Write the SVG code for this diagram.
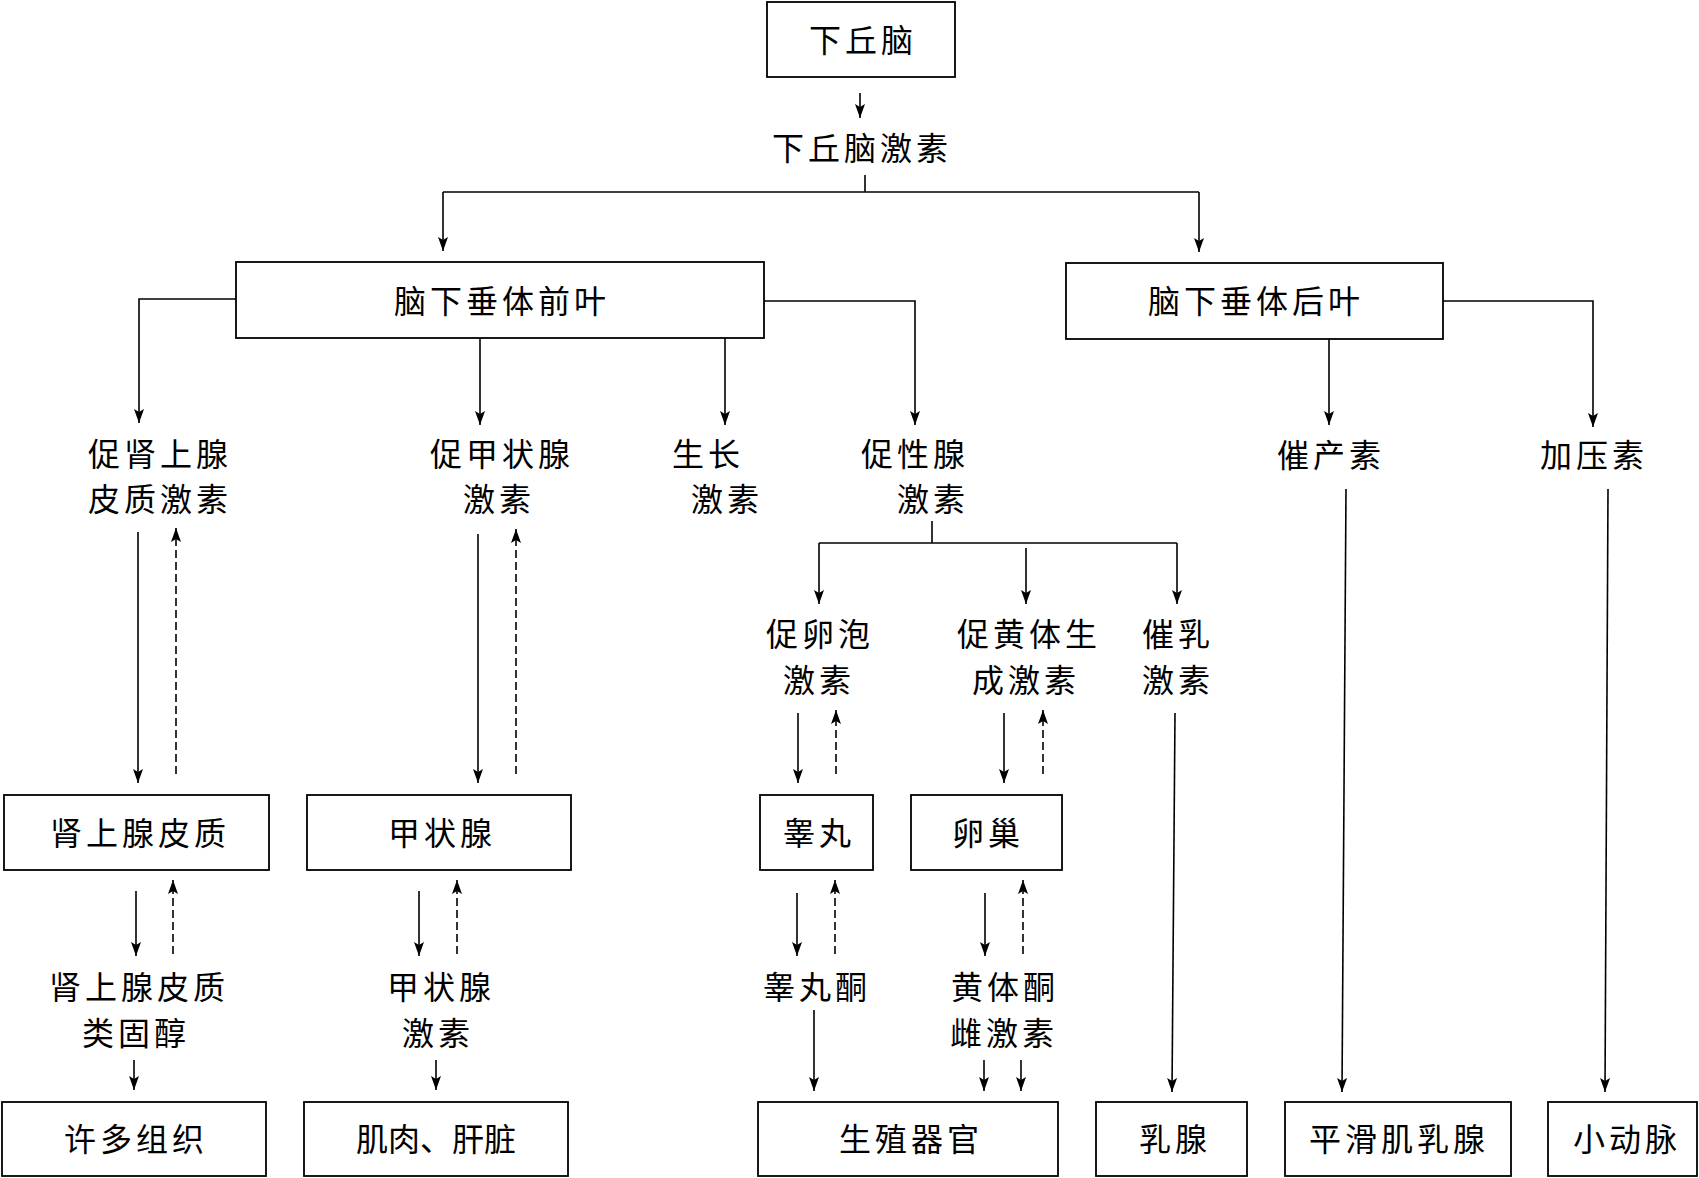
<svg xmlns="http://www.w3.org/2000/svg" width="1699" height="1178" viewBox="0 0 1699 1178">
<style>
.box{fill:#fff;stroke:#000;stroke-width:1.8}
.t{font-family:"Noto Sans CJK SC","Noto Sans CJK JP",sans-serif;font-size:32px;letter-spacing:4px;text-anchor:middle;fill:#000}
.c{fill:none;stroke:#000;stroke-width:1.6}
.d{fill:none;stroke:#000;stroke-width:1.6;stroke-dasharray:8 4}
</style>
<defs>
<marker id="ah" viewBox="0 0 14 10" refX="14" refY="5" markerWidth="14" markerHeight="10" markerUnits="userSpaceOnUse" orient="auto">
<path d="M0,0 L14,5 L0,10 L3,5 z" fill="#000"/>
</marker>
</defs>
<rect width="1699" height="1178" fill="#fff"/>

<g id="n-hypothalamus"><rect class="box" x="767" y="2" width="188" height="75"/><text class="t" x="863" y="52">下丘脑</text></g>
<g id="n-hypo-hormone"><text class="t" x="862" y="160">下丘脑激素</text></g>
<g id="n-anterior"><rect class="box" x="236" y="262" width="528" height="76"/><text class="t" x="502" y="313">脑下垂体前叶</text></g>
<g id="n-posterior"><rect class="box" x="1066" y="263" width="377" height="76"/><text class="t" x="1256" y="313">脑下垂体后叶</text></g>
<g id="n-acth"><text class="t" x="160" y="466">促肾上腺</text><text class="t" x="160" y="511">皮质激素</text></g>
<g id="n-tsh"><text class="t" x="502" y="466">促甲状腺</text><text class="t" x="499" y="511">激素</text></g>
<g id="n-gh"><text class="t" x="708" y="466">生长</text><text class="t" x="727" y="511">激素</text></g>
<g id="n-gth"><text class="t" x="915" y="466">促性腺</text><text class="t" x="933" y="511">激素</text></g>
<g id="n-oxytocin"><text class="t" x="1331" y="467">催产素</text></g>
<g id="n-vasopressin"><text class="t" x="1594" y="467">加压素</text></g>
<g id="n-fsh"><text class="t" x="820" y="646">促卵泡</text><text class="t" x="819" y="692">激素</text></g>
<g id="n-lh"><text class="t" x="1029" y="646">促黄体生</text><text class="t" x="1026" y="692">成激素</text></g>
<g id="n-prl"><text class="t" x="1178" y="646">催乳</text><text class="t" x="1178" y="692">激素</text></g>
<g id="n-adrenal"><rect class="box" x="4" y="795" width="265" height="75"/><text class="t" x="140" y="845">肾上腺皮质</text></g>
<g id="n-thyroid"><rect class="box" x="307" y="795" width="264" height="75"/><text class="t" x="442" y="845">甲状腺</text></g>
<g id="n-testis"><rect class="box" x="760" y="795" width="113" height="75"/><text class="t" x="819" y="845">睾丸</text></g>
<g id="n-ovary"><rect class="box" x="911" y="795" width="151" height="75"/><text class="t" x="988" y="845">卵巢</text></g>
<g id="n-corticoid"><text class="t" x="139" y="999">肾上腺皮质</text><text class="t" x="136" y="1045">类固醇</text></g>
<g id="n-thyroxine"><text class="t" x="441" y="999">甲状腺</text><text class="t" x="438" y="1045">激素</text></g>
<g id="n-testosterone"><text class="t" x="817" y="999">睾丸酮</text></g>
<g id="n-progesterone"><text class="t" x="1005" y="999">黄体酮</text><text class="t" x="1004" y="1045">雌激素</text></g>
<g id="n-tissues"><rect class="box" x="2" y="1102" width="264" height="74"/><text class="t" x="136" y="1151">许多组织</text></g>
<g id="n-muscle"><rect class="box" x="304" y="1102" width="264" height="74"/><text class="t" x="436" y="1151" style="letter-spacing:0">肌肉、肝脏</text></g>
<g id="n-genital"><rect class="box" x="758" y="1102" width="300" height="74"/><text class="t" x="911" y="1151">生殖器官</text></g>
<g id="n-mammary"><rect class="box" x="1096" y="1102" width="151" height="74"/><text class="t" x="1175" y="1151">乳腺</text></g>
<g id="n-smooth"><rect class="box" x="1285" y="1102" width="226" height="74"/><text class="t" x="1399" y="1151">平滑肌乳腺</text></g>
<g id="n-arteriole"><rect class="box" x="1548" y="1102" width="149" height="74"/><text class="t" x="1627" y="1151">小动脉</text></g>

<g id="connectors">
<line class="c" x1="860" y1="93" x2="860" y2="118" marker-end="url(#ah)"/>
<polyline class="c" points="865,175 865,192"/>
<polyline class="c" points="443,192 1199,192"/>
<line class="c" x1="443" y1="192" x2="443" y2="251" marker-end="url(#ah)"/>
<line class="c" x1="1199" y1="192" x2="1199" y2="252" marker-end="url(#ah)"/>
<polyline class="c" points="236,299 139,299 139,423" marker-end="url(#ah)"/>
<line class="c" x1="480" y1="338" x2="480" y2="425" marker-end="url(#ah)"/>
<line class="c" x1="725" y1="338" x2="725" y2="425" marker-end="url(#ah)"/>
<polyline class="c" points="764,301 915,301 915,425" marker-end="url(#ah)"/>
<line class="c" x1="1329" y1="339" x2="1329" y2="425" marker-end="url(#ah)"/>
<polyline class="c" points="1443,301 1593,301 1593,427" marker-end="url(#ah)"/>
<polyline class="c" points="932,521 932,543"/>
<polyline class="c" points="819,543 1177,543"/>
<line class="c" x1="819" y1="543" x2="819" y2="604" marker-end="url(#ah)"/>
<line class="c" x1="1026" y1="548" x2="1026" y2="604" marker-end="url(#ah)"/>
<line class="c" x1="1177" y1="543" x2="1177" y2="604" marker-end="url(#ah)"/>
<line class="c" x1="138" y1="532" x2="138" y2="783" marker-end="url(#ah)"/>
<line class="d" x1="176" y1="774" x2="176" y2="528" marker-end="url(#ah)"/>
<line class="c" x1="478" y1="534" x2="478" y2="783" marker-end="url(#ah)"/>
<line class="d" x1="516" y1="774" x2="516" y2="529" marker-end="url(#ah)"/>
<line class="c" x1="798" y1="713" x2="798" y2="783" marker-end="url(#ah)"/>
<line class="d" x1="836" y1="774" x2="836" y2="710" marker-end="url(#ah)"/>
<line class="c" x1="1004" y1="713" x2="1004" y2="783" marker-end="url(#ah)"/>
<line class="d" x1="1043" y1="774" x2="1043" y2="710" marker-end="url(#ah)"/>
<line class="c" x1="1175" y1="713" x2="1172" y2="1092" marker-end="url(#ah)"/>
<line class="c" x1="1346" y1="489" x2="1342" y2="1092" marker-end="url(#ah)"/>
<line class="c" x1="1608" y1="489" x2="1605" y2="1092" marker-end="url(#ah)"/>
<line class="c" x1="136" y1="891" x2="136" y2="956" marker-end="url(#ah)"/>
<line class="d" x1="173" y1="954" x2="173" y2="880" marker-end="url(#ah)"/>
<line class="c" x1="419" y1="891" x2="419" y2="956" marker-end="url(#ah)"/>
<line class="d" x1="457" y1="954" x2="457" y2="880" marker-end="url(#ah)"/>
<line class="c" x1="797" y1="893" x2="797" y2="956" marker-end="url(#ah)"/>
<line class="d" x1="835" y1="954" x2="835" y2="880" marker-end="url(#ah)"/>
<line class="c" x1="985" y1="893" x2="985" y2="956" marker-end="url(#ah)"/>
<line class="d" x1="1023" y1="954" x2="1023" y2="880" marker-end="url(#ah)"/>
<line class="c" x1="134" y1="1060" x2="134" y2="1090" marker-end="url(#ah)"/>
<line class="c" x1="436" y1="1060" x2="436" y2="1090" marker-end="url(#ah)"/>
<line class="c" x1="814" y1="1010" x2="814" y2="1091" marker-end="url(#ah)"/>
<line class="c" x1="984" y1="1060" x2="984" y2="1091" marker-end="url(#ah)"/>
<line class="c" x1="1021" y1="1060" x2="1021" y2="1091" marker-end="url(#ah)"/>
</g>
</svg>
